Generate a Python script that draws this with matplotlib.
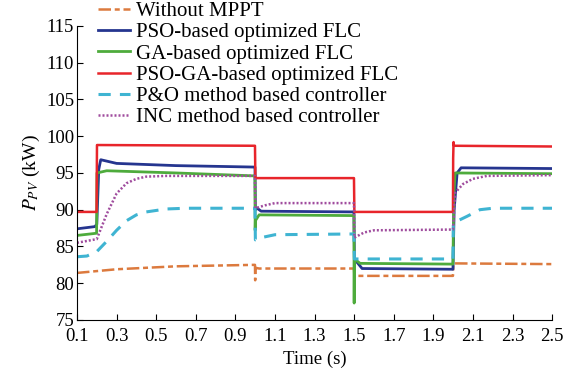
import matplotlib
matplotlib.use("Agg")
import matplotlib.pyplot as plt

plt.rcParams["font.family"] = ["Liberation Serif", "DejaVu Serif"]
plt.rcParams["mathtext.fontset"] = "stix"

# breakpoints (time in s, power in kW)
t_nompt = [0.1, 0.3, 0.6, 0.999, 1.0, 1.001, 1.02, 1.499, 1.501, 1.999, 2.001, 2.5]
p_nompt = [81.4, 81.9, 82.3, 82.5, 80.4, 82.1, 82.0, 82.0, 81.0, 81.0, 82.7, 82.6]

t_pso = [0.1, 0.19, 0.2, 0.21, 0.22, 0.3, 0.6, 0.999, 1.001, 1.01, 1.03, 1.499, 1.501,
         1.51, 1.54, 1.999, 2.005, 2.02, 2.04, 2.5]
p_pso = [87.4, 87.7, 88.0, 95.5, 96.8, 96.3, 96.0, 95.8, 90.0, 90.2, 89.8, 89.7, 83.5,
         83.0, 82.0, 81.9, 90.0, 95.0, 95.7, 95.6]

t_ga = [0.1, 0.199, 0.201, 0.25, 0.6, 0.999, 1.0, 1.001, 1.02, 1.499, 1.5, 1.501, 1.53,
        1.999, 2.003, 2.01, 2.5]
p_ga = [86.5, 86.8, 95.0, 95.3, 95.0, 94.6, 87.2, 88.5, 89.3, 89.2, 77.3, 83.3, 82.7,
        82.6, 92.0, 95.0, 94.9]

t_psoga = [0.1, 0.199, 0.201, 0.999, 1.001, 1.499, 1.501, 1.999, 2.0, 2.002, 2.004, 2.5]
p_psoga = [89.7, 89.7, 98.8, 98.7, 94.3, 94.3, 89.7, 89.7, 97.0, 99.2, 98.7, 98.6]

t_po = [0.1, 0.15, 0.2, 0.25, 0.3, 0.35, 0.4, 0.45, 0.55, 0.65, 0.999, 1.001, 1.03, 1.1,
        1.499, 1.501, 1.999, 2.001, 2.07, 2.135, 2.2, 2.5]
p_po = [83.6, 83.7, 84.3, 85.7, 87.2, 88.5, 89.3, 89.7, 90.1, 90.2, 90.2, 85.9, 86.2, 86.6,
        86.7, 83.3, 83.3, 88.2, 89.1, 90.0, 90.2, 90.2]

t_inc = [0.1, 0.2, 0.25, 0.3, 0.35, 0.4, 0.45, 0.55, 0.999, 1.001, 1.05, 1.1, 1.499, 1.501,
         1.55, 1.6, 1.999, 2.01, 2.05, 2.1, 2.17, 2.5]
p_inc = [85.5, 86.0, 89.4, 92.2, 93.6, 94.2, 94.5, 94.6, 94.6, 90.2, 90.6, 90.9, 90.9, 86.2,
         86.9, 87.2, 87.3, 92.3, 93.5, 94.2, 94.6, 94.7]

labels = ["Without MPPT", "PSO-based optimized FLC", "GA-based optimized FLC",
          "PSO-GA-based optimized FLC", "P&O method based controller",
          "INC method based controller"]

fig = plt.figure(figsize=(5.64, 3.76), dpi=100)
ax = fig.add_axes([0.1365, 0.149, 0.8425, 0.782])

ax.plot(t_nompt, p_nompt, color="#dc7a3e", lw=1.8, dashes=(5, 1.5, 2, 1.5), label=labels[0])
ax.plot(t_pso, p_pso, color="#25358f", lw=2.0, label=labels[1])
ax.plot(t_ga, p_ga, color="#4eab3c", lw=2.0, label=labels[2])
ax.plot(t_psoga, p_psoga, color="#e8252b", lw=1.8, label=labels[3])
ax.plot(t_po, p_po, color="#3fb4d2", lw=2.2, dashes=(4, 3), label=labels[4])
ax.plot(t_inc, p_inc, color="#a04d9e", lw=1.8, dashes=(0.8, 0.8), label=labels[5])

ax.set_xlim(0.1, 2.5)
ax.set_ylim(75, 115)
ax.set_xticks([0.1 + 0.2 * i for i in range(13)])
ax.set_xticklabels([f"{0.1 + 0.2 * i:.1f}" for i in range(13)])
ax.set_yticks(range(75, 116, 5))
ax.spines["top"].set_visible(False)
ax.spines["right"].set_visible(False)
ax.tick_params(direction="in", length=4, labelsize=13.5)
ax.tick_params(axis="x", pad=6)
ax.tick_params(axis="y", pad=2)
ax.set_xlabel("Time (s)", fontsize=13.5, labelpad=4)
ax.set_ylabel(r"$P_{PV}$ (kW)", fontsize=14, labelpad=3)

ax.legend(loc="upper left", bbox_to_anchor=(0.174, 0.996), bbox_transform=fig.transFigure,
          frameon=False, fontsize=15, handlelength=1.55, handletextpad=0.25,
          labelspacing=0.08, borderpad=0, borderaxespad=0)

fig.savefig("out.png", dpi=100)
